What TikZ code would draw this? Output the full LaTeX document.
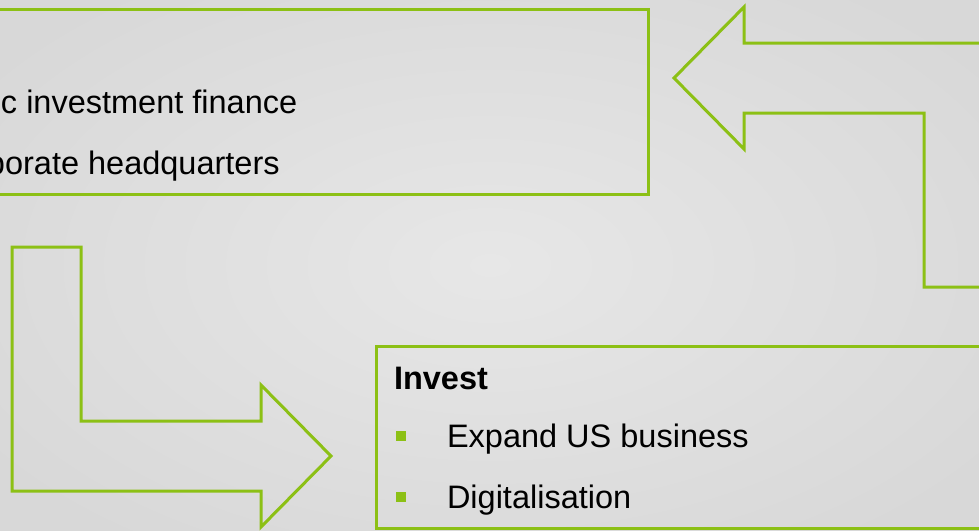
\documentclass[tikz,border=0pt]{standalone}
\usepackage{fontspec}
\setmainfont{Liberation Sans}
\definecolor{leaf}{HTML}{8CC015}
\definecolor{bgmid}{HTML}{E7E7E7}
\definecolor{bgedge}{HTML}{D8D8D8}
\tikzset{
  outline/.style={draw=leaf, line width=3pt, line join=miter},
  txt/.style={anchor=base west, inner sep=0pt, outer sep=0pt,
              font=\fontsize{32.5}{39}\selectfont, text=black},
  head/.style={txt, font=\fontsize{32.5}{39}\selectfont\bfseries},
  bullet/.style={fill=leaf, draw=none, minimum size=10pt, inner sep=0pt}
}
\begin{document}
\begin{tikzpicture}[x=1pt, y=-1pt]
  \useasboundingbox (0,0) rectangle (979,530);
  \clip (0,0) rectangle (979,530);
  % soft grey backdrop
  \shade[inner color=bgmid, outer color=bgedge] (-120,-80) rectangle (1100,610);

  % upper panel
  \draw[outline] (-20,9) rectangle (648,194);
  \node[txt] (fin) at (1,113) {c investment finance};
  \node[txt] (hq) at (-13,174) {porate headquarters};

  % lower panel
  \draw[outline] (376,346) rectangle (1000,528);
  \node[head] (inv) at (394,389) {Invest};
  \node[bullet] (b1) at (401,436) {};
  \node[txt] (us) at (447,447) {Expand US business};
  \node[bullet] (b2) at (401,497) {};
  \node[txt] (dig) at (447,508) {Digitalisation};

  % bent arrow coming up on the right and pointing left
  \draw[outline] (994,287) -- (924,287) -- (924,113) -- (744,113)
    -- (744,149) -- (674,78) -- (744,7) -- (744,43) -- (994,43) -- cycle;

  % bent arrow going down on the left and pointing right
  \draw[outline] (12,247) -- (81,247) -- (81,421) -- (261,421)
    -- (261,385) -- (331,456) -- (261,527) -- (261,491) -- (12,491) -- cycle;
\end{tikzpicture}
\end{document}
